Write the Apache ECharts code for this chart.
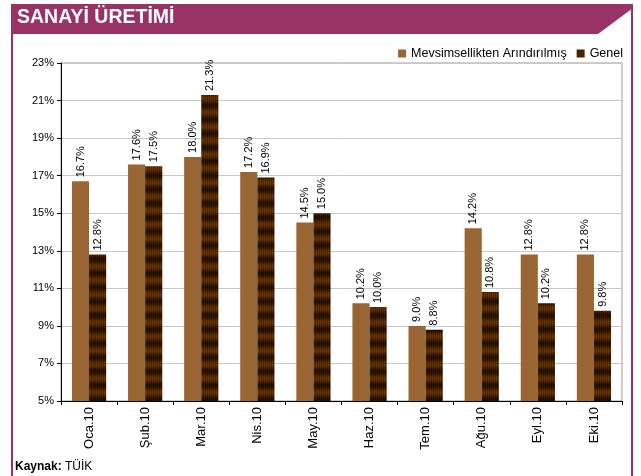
<!DOCTYPE html>
<html>
<head>
<meta charset="utf-8">
<script src="https://cdn.jsdelivr.net/npm/echarts@6/dist/echarts.min.js"></script>
<style>
html,body{margin:0;padding:0;background:#fff;}
#c{width:641px;height:476px;}
</style>
</head>
<body>
<div id="c"></div>
<script>
var categories = ['Oca.10','Şub.10','Mar.10','Nis.10','May.10','Haz.10','Tem.10','Ağu.10','Eyl.10','Eki.10'];
var seasonalAdj = [16.7,17.6,18.0,17.2,14.5,10.2,9.0,14.2,12.8,12.8];
var general = [12.8,17.5,21.3,16.9,15.0,10.0,8.8,10.8,10.2,9.8];
var seriesNames = ['Mevsimsellikten Arındırılmış','Genel'];
var titleText = 'SANAYİ ÜRETİMİ';
var sourceLabel = 'Kaynak:';
var sourceText = 'TÜİK';

// striped dark pattern
var pc = document.createElement('canvas');
pc.width = 4; pc.height = 14;
var pctx = pc.getContext('2d');
function lerp(a,b,t){return Math.round(a+(b-a)*t);}
for (var y=0;y<14;y++){
  var t = 0.5+0.5*Math.cos(2*Math.PI*y/14); // 1 light, 0 dark
  for (var x=0;x<4;x++){
    var k = (x%2===0)?1:0.7;
    var r = lerp(0x2a,0x6e,t)*k, g=lerp(0x12,0x36,t)*k, b=lerp(0x00,0x04,t)*k;
    pctx.fillStyle='rgb('+Math.round(r)+','+Math.round(g)+','+Math.round(b)+')';
    pctx.fillRect(x,y,1,1);
  }
}

var FF = 'Liberation Sans, Arial, sans-serif';
var chart = echarts.init(document.getElementById('c'), null, {renderer:'canvas'});
var labelCommon = {
  show:true, position:'top', rotate:90, align:'left', verticalAlign:'middle',
  distance:4, fontFamily:FF, fontSize:11, color:'#000',
  formatter:function(p){return p.value.toFixed(1)+'%';}
};
chart.setOption({
  animation:false,
  textStyle:{fontFamily:FF},
  grid:{left:61,top:63,right:19,bottom:75,show:true,borderColor:'#999',borderWidth:1,backgroundColor:'transparent'},
  legend:{
    data:[{name:seriesNames[0],itemStyle:{color:'#996633'}},{name:seriesNames[1],itemStyle:{color:'#4a2400'}}],
    right:13, top:42, icon:'rect', itemWidth:8, itemHeight:8, itemGap:10,
    textStyle:{fontSize:12.5,color:'#000',fontFamily:FF}
  },
  xAxis:{
    type:'category', data:categories,
    axisLine:{lineStyle:{color:'#000',width:1}},
    axisTick:{show:true,length:4,lineStyle:{color:'#000'}},
    axisLabel:{rotate:90,fontSize:13,color:'#000',margin:6,fontFamily:FF}
  },
  yAxis:{
    type:'value', min:5, max:23, interval:2,
    axisLine:{show:true,lineStyle:{color:'#000',width:1}},
    axisTick:{show:true,length:4,lineStyle:{color:'#000'}},
    axisLabel:{formatter:'{value}%',fontSize:11,color:'#000',margin:7},
    splitLine:{lineStyle:{color:'#c8c8c8',width:1}}
  },
  series:[
    {name:seriesNames[0],type:'bar',data:seasonalAdj,barGap:'0%',barCategoryGap:'39%',
     itemStyle:{color:'#996633'},label:labelCommon},
    {name:seriesNames[1],type:'bar',data:general,barGap:'0%',barCategoryGap:'39%',
     itemStyle:{color:{image:pc,repeat:'repeat'}},label:labelCommon}
  ],
  graphic:[
    {type:'polygon',shape:{points:[[11,4],[633,4],[633,8],[598,34],[11,34]]},style:{fill:'#993366'},silent:true},
    {type:'rect',shape:{x:11,y:4,width:2,height:472},style:{fill:'#993366'},silent:true},
    {type:'rect',shape:{x:631,y:4,width:2,height:472},style:{fill:'#993366'},silent:true},
    {type:'text',left:17,top:8,style:{text:titleText,fill:'#fff',font:'bold 19.5px Liberation Sans, Arial, sans-serif'},silent:true},
    {type:'text',left:15,top:461,style:{
      text:'{b|'+sourceLabel+'} {n|'+sourceText+'}',
      rich:{b:{fontWeight:'bold',fontSize:12,fill:'#000',fontFamily:FF},
            n:{fontSize:12,fill:'#000',fontFamily:FF}}
    },silent:true}
  ]
});
</script>
</body>
</html>
